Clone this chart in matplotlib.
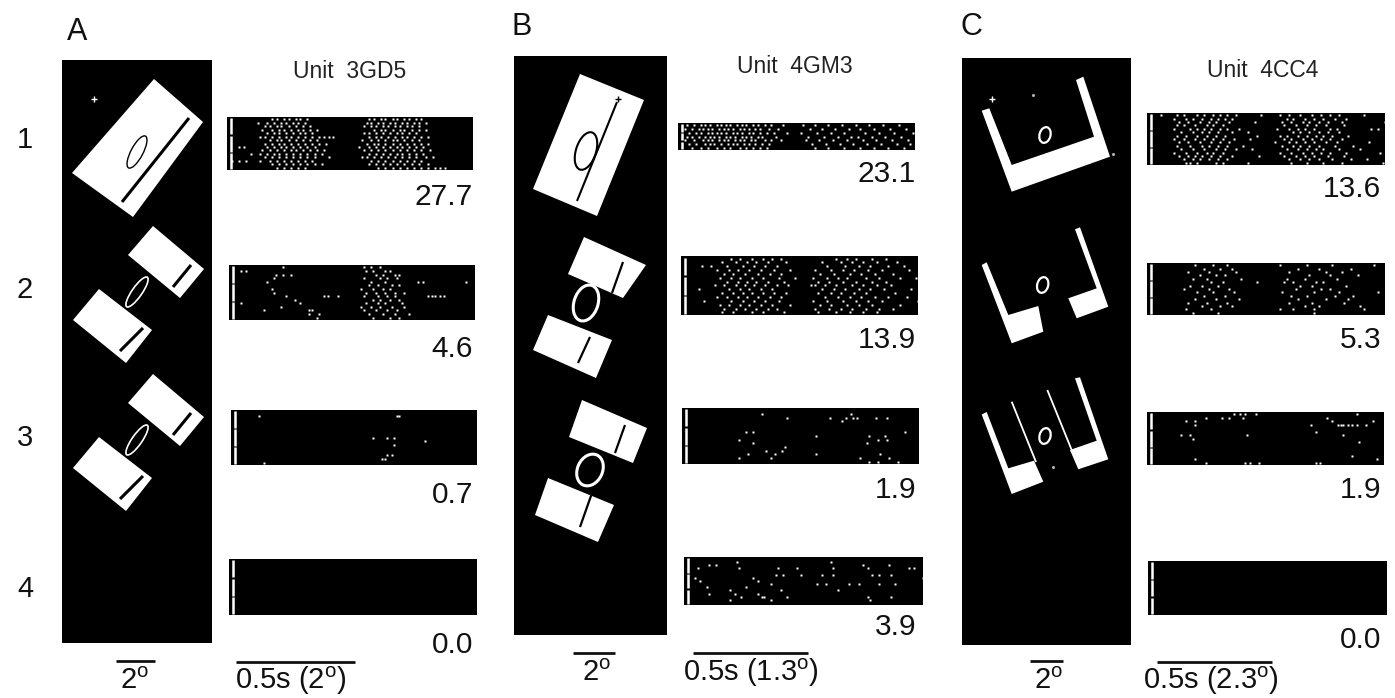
import matplotlib
matplotlib.use("Agg")
import matplotlib.pyplot as plt
from matplotlib.patches import Polygon, Ellipse
from matplotlib.transforms import blended_transform_factory

plt.rcParams["font.family"] = ["Liberation Sans", "DejaVu Sans"]
plt.rcParams["mathtext.fontset"] = "custom"
plt.rcParams["mathtext.rm"] = "Liberation Sans"
plt.rcParams["mathtext.it"] = "Liberation Sans:italic"

W, H = 1395, 698

# =====================================================================================
# Data (spike times in 10 ms bins, one list per trial, trial 0 at top)
# =====================================================================================

panel_labels = ["A", "B", "C"]
row_labels = ["1", "2", "3", "4"]
unit_names = ["Unit  3GD5", "Unit  4GM3", "Unit  4CC4"]
rates_a = [27.7, 4.6, 0.7, 0.0]
rates_b = [23.1, 13.9, 1.9, 3.9]
rates_c = [13.6, 5.3, 1.9, 0.0]
time_bar_labels = [r"0.5s (2$^{\rm o}$)", r"0.5s (1.3$^{\rm o}$)", r"0.5s (2.3$^{\rm o}$)"]
deg_bar_label = r"2$^{\rm o}$"
T_MAX = 104      # raster length, 10 ms bins
BAR_LEN = 50     # 0.5 s

spikes_a1 = [
    [19, 21, 24, 26, 29, 31, 34, 60, 62, 65, 67, 70, 72, 75, 77, 80, 82],
    [13, 17, 20, 23, 25, 28, 30, 33, 59, 61, 64, 66, 69, 71, 74, 76, 79, 81, 84],
    [16, 18, 21, 23, 26, 29, 32, 35, 58, 61, 63, 66, 68, 71, 73, 76, 78, 81],
    [15, 19, 22, 24, 27, 30, 32, 35, 38, 62, 65, 67, 70, 73, 75, 78, 81, 84],
    [17, 20, 22, 25, 28, 31, 33, 36, 58, 60, 63, 66, 69, 72, 74, 77, 80],
    [14, 16, 19, 22, 25, 27, 30, 33, 36, 39, 41, 43, 45, 60, 63, 65, 68, 71, 74, 76, 79, 82, 85],
    [18, 21, 23, 26, 29, 32, 35, 38, 57, 61, 64, 67, 70, 72, 75, 78, 81],
    [16, 19, 22, 24, 27, 30, 33, 36, 39, 42, 59, 62, 64, 67, 70, 73, 76, 79, 82, 85],
    [5, 7, 17, 20, 23, 25, 28, 31, 34, 37, 56, 60, 63, 66, 69, 72, 74, 77, 80, 83],
    [15, 18, 21, 24, 27, 29, 32, 35, 38, 41, 58, 61, 64, 67, 70, 73, 76, 79, 82, 86],
    [10, 14, 17, 20, 22, 25, 28, 31, 34, 37, 40, 60, 63, 66, 69, 72, 74, 77, 80, 83],
    [16, 19, 22, 25, 28, 31, 34, 37, 43, 57, 59, 62, 65, 68, 71, 74, 77, 80, 84, 87],
    [2, 5, 8, 14, 18, 21, 24, 27, 30, 33, 36, 61, 64, 67, 70, 73, 76, 79, 82],
    [19, 22, 25, 28, 31, 34, 37, 40, 60, 63, 66, 69, 72, 75, 78, 81, 85],
    [21, 24, 27, 30, 33, 64, 67, 70, 73, 76, 79, 82, 85, 88, 90, 92],
]
spikes_a2 = [
    [23, 57, 60, 64],
    [5, 7, 58, 61, 66, 68],
    [20, 23, 26, 62, 65, 70, 72],
    [19, 57, 64, 67, 71],
    [16, 60, 66, 80, 82, 100],
    [59, 63, 69, 72],
    [18, 56, 61, 65, 68],
    [19, 58, 62, 66, 70, 74],
    [24, 40, 42, 46, 57, 63, 67, 70, 84, 86, 87, 89, 91],
    [28, 61, 64, 68, 72],
    [5, 30, 58, 63, 66, 73],
    [22, 56, 60, 64, 69, 74],
    [15, 34, 35, 57, 62, 67, 71],
    [34, 38, 59, 65, 70, 76],
    [37, 61, 68, 72],
]
spikes_a3 = [[], [12, 70, 71], [], [], [], [], [], [60, 66, 69], [82], [69], [], [],
             [66, 68], [64, 65], [14]]
spikes_a4 = [[], [], [], [], [], [], [], [], [], [], [], [], [], [], []]

spikes_b1 = [
    [4, 7, 10, 12, 14, 17, 19, 21, 23, 26, 28, 30, 33, 35, 38, 41, 46, 55, 60, 66, 72, 78, 84, 90, 97],
    [3, 6, 9, 11, 13, 15, 18, 20, 22, 24, 27, 29, 31, 34, 36, 40, 44, 58, 63, 69, 75, 80, 86, 93, 100],
    [5, 8, 10, 13, 15, 17, 19, 21, 24, 26, 28, 31, 33, 36, 39, 42, 48, 54, 61, 67, 73, 82, 88, 95, 103],
    [4, 6, 9, 12, 14, 16, 18, 21, 23, 25, 28, 30, 32, 35, 37, 43, 57, 64, 70, 76, 79, 85, 91, 98],
    [3, 7, 11, 13, 15, 18, 20, 22, 25, 27, 29, 32, 34, 38, 41, 45, 56, 62, 68, 74, 81, 87, 94, 101],
    [5, 8, 12, 14, 16, 19, 22, 24, 26, 29, 31, 34, 37, 40, 59, 65, 71, 77, 83, 89, 96, 102],
    [6, 10, 13, 17, 20, 23, 27, 30, 33, 36, 39, 60, 66, 73, 80, 86, 92, 99],
]
spikes_b2 = [
    [22, 26, 31, 36, 40, 44, 68, 73, 77, 84, 90],
    [18, 24, 29, 33, 38, 46, 62, 70, 75, 80, 86, 95],
    [9, 13, 20, 27, 32, 37, 42, 64, 72, 78, 83, 91, 98],
    [16, 21, 25, 30, 35, 41, 48, 59, 66, 71, 76, 82, 88, 100],
    [19, 23, 28, 34, 39, 44, 61, 67, 74, 79, 85, 93],
    [17, 22, 26, 31, 36, 43, 50, 58, 64, 69, 73, 81, 87, 96, 103],
    [20, 25, 29, 33, 38, 45, 60, 65, 71, 77, 84, 90],
    [15, 19, 24, 28, 32, 37, 42, 47, 57, 59, 63, 68, 75, 80, 86, 92],
    [8, 21, 26, 30, 35, 40, 62, 67, 72, 78, 83, 89, 101],
    [18, 23, 27, 31, 36, 41, 46, 60, 66, 70, 76, 81, 94],
    [16, 20, 25, 29, 34, 39, 44, 63, 69, 74, 79, 85, 91, 99],
    [10, 22, 27, 32, 37, 43, 58, 64, 71, 77, 82, 88, 104],
    [17, 21, 26, 30, 35, 40, 48, 61, 66, 73, 78, 84, 96],
    [19, 24, 28, 33, 38, 42, 59, 65, 70, 75, 81, 87, 93],
    [18, 23, 31, 36, 45, 60, 68, 74, 80, 86],
]
spikes_b3 = [[], [35, 74], [46, 65, 72, 75, 77, 85, 90], [70], [], [], [28, 31, 98],
             [59, 82, 89], [25, 86, 90], [31, 81], [45], [37, 44], [29, 41, 59, 87],
             [25, 39, 78, 91], [82, 86, 95]]
spikes_b4 = [[], [23, 64], [11, 14, 78, 89], [6, 24, 41, 49, 65, 80, 98, 100], [],
             [40, 43, 51, 60, 65, 82, 85, 90], [5, 30, 104], [7, 32],
             [38, 58, 62, 72, 76, 85, 92], [10, 27], [20, 42, 67], [11, 22, 32],
             [25, 34, 35, 45, 80, 90], [20, 38, 81], []]

spikes_c1 = [
    [6, 13, 16, 22, 25, 29, 32, 35, 39, 50, 58, 62, 67, 72, 76, 80, 84, 95],
    [12, 17, 20, 24, 28, 31, 34, 37, 61, 64, 69, 73, 77, 82, 87],
    [14, 18, 23, 27, 30, 36, 47, 59, 63, 68, 71, 75, 79, 85, 104],
    [13, 16, 21, 26, 29, 33, 60, 65, 70, 74, 78, 86],
    [12, 19, 22, 25, 28, 32, 35, 40, 57, 62, 66, 69, 73, 80, 83, 98, 101],
    [15, 20, 24, 27, 31, 37, 44, 64, 67, 71, 75, 79, 84],
    [13, 17, 22, 26, 30, 34, 48, 58, 61, 66, 70, 74, 77, 81, 88],
    [12, 16, 21, 25, 29, 33, 38, 45, 60, 63, 68, 72, 76, 80, 85],
    [14, 18, 23, 28, 32, 36, 56, 62, 65, 69, 73, 78, 83, 97],
    [13, 19, 24, 27, 31, 35, 42, 59, 64, 67, 71, 75, 82, 90],
    [15, 20, 25, 30, 34, 39, 46, 61, 66, 70, 74, 77, 84, 93],
    [12, 17, 22, 26, 29, 33, 58, 63, 68, 72, 76, 80, 87, 102],
    [14, 18, 21, 24, 28, 32, 37, 49, 60, 65, 69, 73, 79, 86],
    [16, 20, 23, 27, 31, 35, 62, 67, 71, 75, 81, 89, 96],
    [17, 19, 22, 30, 33, 44, 63, 70, 77, 85, 103],
]
spikes_c2 = [
    [21, 29, 35, 58, 70, 81, 99],
    [25, 32, 37, 66, 75, 89],
    [18, 27, 39, 62, 78, 85],
    [23, 30, 34, 71, 80, 92],
    [20, 26, 41, 61, 69, 83],
    [28, 33, 48, 60, 64, 74, 77],
    [19, 24, 31, 67, 72, 87],
    [16, 27, 36, 65, 76, 80],
    [22, 29, 38, 59, 73, 84, 101],
    [25, 34, 63, 70, 82, 90],
    [21, 30, 40, 66, 78, 88],
    [18, 26, 35, 62, 72, 86],
    [24, 32, 37, 69, 75, 93],
    [17, 28, 58, 64, 73, 95],
    [20, 31, 73],
]
spikes_c3 = [[38, 41, 43, 48, 92], [26, 33, 36, 42, 79], [17, 21, 81, 99],
             [21, 72, 84, 85, 86, 88, 90, 92, 96], [], [74], [15, 19, 44, 86], [20],
             [93], [], [], [], [90], [21, 101], [26, 43, 45, 49, 74, 76]]
spikes_c4 = [[], [], [], [], [], [], [], [], [], [], [], [], [], [], []]

# =====================================================================================
# Layout helpers (boxes in pixels: x0, y0, x1, y1, y downwards)
# =====================================================================================

fig = plt.figure(figsize=(W / 100, H / 100), dpi=100)
fig.patch.set_facecolor("white")


def px_axes(x0, y0, x1, y1):
    ax = fig.add_axes([x0 / W, 1 - y1 / H, (x1 - x0) / W, (y1 - y0) / H])
    ax.set_xticks([])
    ax.set_yticks([])
    for s in ax.spines.values():
        s.set_visible(False)
    return ax


def px_text(x, y, s, size, ha="left", va="baseline", color="#111111"):
    fig.text(x / W, 1 - y / H, s, fontsize=size, ha=ha, va=va, color=color)


def stim_axes(box):
    x0, y0, x1, y1 = box
    ax = px_axes(*box)
    ax.set_facecolor("black")
    ax.set_xlim(x0, x1)
    ax.set_ylim(y1, y0)
    return ax


def rect(ax, pts):
    ax.add_patch(Polygon(pts, closed=True, fc="white", ec="none"))


def bar(ax, p, q, color="black", lw=2.0):
    ax.plot([p[0], q[0]], [p[1], q[1]], color=color, lw=lw, solid_capstyle="butt")


def ring(ax, c, major, minor, angle, color="white", lw=1.5):
    ax.add_patch(Ellipse(c, major, minor, angle=angle, fc="none", ec=color, lw=lw))


def draw_raster(box, trials, rows=None):
    ax = px_axes(*box)
    ax.set_facecolor("black")
    n = rows or len(trials)
    for i, spikes in enumerate(trials):
        ax.plot(spikes, [i] * len(spikes), ls="none", marker="s", ms=1.9,
                mfc="white", mec="none")
    ax.set_xlim(0, T_MAX)
    ax.set_ylim(n - 0.35, -0.65)
    seg = n / 3
    for k in range(3):
        ax.plot([1.8, 1.8], [-0.45 + k * seg + 0.2, -0.45 + (k + 1) * seg - 0.2],
                color="white", lw=1.8, solid_capstyle="butt")
    return ax


def time_bar(ax, start, y_px, label, text_x, text_y):
    tr = blended_transform_factory(ax.transData, fig.transFigure)
    ax.plot([start, start + BAR_LEN], [1 - y_px / H] * 2, transform=tr, color="#111111",
            lw=2.0, clip_on=False, solid_capstyle="butt")
    px_text(text_x, text_y, label, 21)


# =====================================================================================
# Stimulus drawings
# =====================================================================================

ax_a = stim_axes((62, 60, 212, 643))
rect(ax_a, [(154, 79), (203, 122), (133, 217), (72, 173)])
bar(ax_a, (189, 118), (122, 202), lw=2.2)
ring(ax_a, (137, 152), 36, 12, -62, color="black", lw=1.0)
ax_a.plot(94, 99, marker="+", ms=5, mew=1.0, color="white")
for dy in (0, 148):
    rect(ax_a, [(153, 226 + dy), (204, 269 + dy), (180, 298 + dy), (128, 255 + dy)])
    bar(ax_a, (191, 265 + dy), (173, 287 + dy), lw=2.2)
    rect(ax_a, [(99, 289 + dy), (152, 330 + dy), (126, 363 + dy), (73, 320 + dy)])
    bar(ax_a, (143, 328 + dy), (120, 351 + dy), lw=2.2)
    ring(ax_a, (137, 292 + dy), 36, 10, -55, lw=1.2)
ax_a.plot([116, 155], [661, 661], color="#111111", lw=2.0, clip_on=False, solid_capstyle="butt")

ax_b = stim_axes((514, 56, 667, 635))
rect(ax_b, [(580, 74), (644, 100), (597, 216), (533, 189)])
bar(ax_b, (617, 102), (577, 201), lw=1.5)
ring(ax_b, (586, 151), 39, 20, -72, color="black", lw=1.5)
ax_b.plot(618, 99, marker="+", ms=5, mew=1.0, color="black")
rect(ax_b, [(584, 237), (646, 265), (623, 298), (568, 274)])
bar(ax_b, (623, 262), (612, 293), lw=1.6)
rect(ax_b, [(548, 315), (612, 340), (596, 378), (533, 350)])
bar(ax_b, (590, 337), (578, 363), lw=1.6)
ring(ax_b, (586, 303), 37, 24, -72, lw=2.2)
rect(ax_b, [(582, 400), (647, 428), (633, 463), (569, 437)])
bar(ax_b, (625, 425), (615, 453), lw=1.6)
rect(ax_b, [(548, 478), (614, 505), (598, 542), (535, 515)])
bar(ax_b, (592, 493), (580, 527), lw=1.6)
ring(ax_b, (590, 470), 33, 25, -65, lw=2.2)
ax_b.plot([573, 615], [653, 653], color="#111111", lw=2.0, clip_on=False, solid_capstyle="butt")

ax_c = stim_axes((962, 58, 1131, 645))
rect(ax_c, [(981.7, 110.7), (989.3, 108.3), (1011.7, 165), (1094, 136.7), (1076, 80),
            (1083.3, 76.7), (1110, 156.7), (1011.7, 191.7)])
ring(ax_c, (1045, 135), 16, 11, -75, lw=1.6)
ax_c.plot(992, 99, marker="+", ms=5, mew=1.0, color="white")
ax_c.plot([1033, 1113], [95, 154], ls="none", marker="s", ms=1.0, color="#bbbbbb")
rect(ax_c, [(981.7, 265), (986.7, 262.3), (1008.3, 315), (1038.3, 306), (1043.3, 331.7),
            (1011.7, 343.3)])
rect(ax_c, [(1075, 229.3), (1080, 227.3), (1108.3, 306.7), (1076.7, 318.3), (1068.3, 298.3),
            (1096.7, 288.3)])
ring(ax_c, (1042.7, 285), 16, 11, -75, lw=1.6)
rect(ax_c, [(981.7, 414.5), (986.7, 412), (1008.3, 468.3), (1034, 460.7), (1043.3, 481.7),
            (1011.7, 494)])
bar(ax_c, (1011.7, 401.7), (1036, 462), color="white", lw=1.3)
rect(ax_c, [(1075, 378.3), (1080, 377.3), (1108.3, 459.3), (1078.3, 469.3), (1070, 450),
            (1096.7, 440.7)])
bar(ax_c, (1047.3, 390), (1071.7, 450), color="white", lw=1.3)
ring(ax_c, (1045, 436), 16, 11, -75, lw=1.6)
ax_c.plot(1053, 467, ls="none", marker="s", ms=1.0, color="#bbbbbb")
ax_c.plot([1030, 1063], [661, 661], color="#111111", lw=2.0, clip_on=False, solid_capstyle="butt")

# =====================================================================================
# Rasters
# =====================================================================================

boxes_a = [(227, 117, 473, 170), (229, 265, 475, 320), (231, 410, 477, 465), (229, 559, 477, 615)]
boxes_b = [(678, 123, 915, 150), (681, 256, 918, 315), (682, 408, 919, 464), (684, 557, 923, 605)]
boxes_c = [(1147, 113, 1385, 165), (1147, 263, 1385, 315), (1147, 412, 1384, 465),
           (1148, 561, 1387, 615)]

ras_a = [draw_raster(b, s) for b, s in zip(boxes_a, [spikes_a1, spikes_a2, spikes_a3, spikes_a4])]
ras_b = [draw_raster(b, s) for b, s in zip(boxes_b, [spikes_b1, spikes_b2, spikes_b3, spikes_b4])]
ras_c = [draw_raster(b, s) for b, s in zip(boxes_c, [spikes_c1, spikes_c2, spikes_c3, spikes_c4])]

# firing rates under each raster
for rates, x_right, baselines in [
    (rates_a, 473, [205, 357, 503, 653]),
    (rates_b, 916, [182, 348, 498, 635]),
    (rates_c, 1381, [197, 348, 498, 648]),
]:
    for r, yb in zip(rates, baselines):
        px_text(x_right, yb, f"{r:.1f}", 21.5, ha="right")

# =====================================================================================
# Labels and scale bars
# =====================================================================================

for lab, x, yb in zip(panel_labels, [67, 512, 960], [40, 35, 35]):
    px_text(x, yb, lab, 22)
for lab, yb in zip(row_labels, [148, 298, 446, 597]):
    px_text(25, yb, lab, 21, ha="center")
for name, xc, yb in zip(unit_names, [350, 795, 1263], [78, 73, 77]):
    px_text(xc, yb, name, 16.5, ha="center", color="#222222")

for xc, yb in zip([134, 596, 1048], [689, 681, 689]):
    px_text(xc, yb, deg_bar_label, 21, ha="center")

time_bar(ras_a[3], 2.9, 662, time_bar_labels[0], 235, 689)
time_bar(ras_b[3], 3.9, 653, time_bar_labels[1], 683, 681)
time_bar(ras_c[3], 3.9, 662, time_bar_labels[2], 1143, 689)

fig.savefig("out.png", dpi=100)
